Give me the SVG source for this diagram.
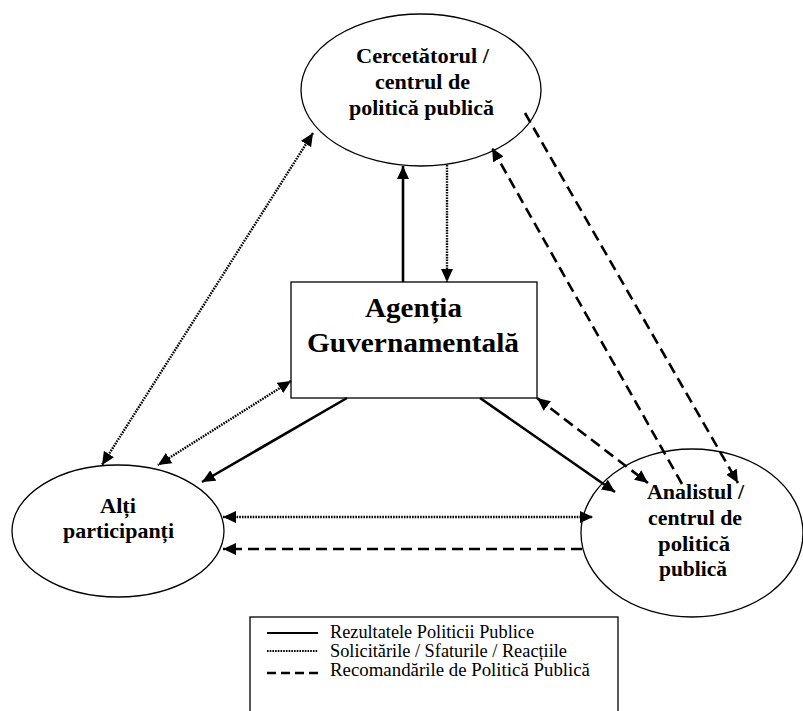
<svg xmlns="http://www.w3.org/2000/svg" width="803" height="711" viewBox="0 0 803 711">
  <defs>
    <style>
      .shape { fill: #ffffff; stroke: #000000; stroke-width: 1.3; }
      .lbl { font-weight: bold; fill: #000; text-anchor: middle; }
      .leg { fill: #000; font-size: 18px; }
      .solid { stroke: #000; stroke-width: 2.6; fill: none; }
      .dot { stroke: #000; stroke-width: 2.4; fill: none; stroke-dasharray: 1.6 1.1; }
      .dash { stroke: #000; stroke-width: 2.6; fill: none; stroke-dasharray: 11 6; }
    </style>
    <marker id="arr" markerUnits="userSpaceOnUse" markerWidth="14" markerHeight="12" refX="13" refY="6" orient="auto-start-reverse" viewBox="0 0 14 12">
      <path d="M0,0 L13,6 L0,12 Z" fill="#000"/>
    </marker>
  </defs>
  <rect width="803" height="711" fill="#ffffff"/>

  <g font-family="'Liberation Serif', 'Times New Roman', serif">
  <g id="cercetator">
    <ellipse class="shape" cx="421" cy="90" rx="120" ry="76"/>
    <text class="lbl" font-size="21" x="422.5" y="63" textLength="133" lengthAdjust="spacingAndGlyphs">Cercetătorul /</text>
    <text class="lbl" font-size="21" x="422.5" y="89" textLength="95" lengthAdjust="spacingAndGlyphs">centrul de</text>
    <text class="lbl" font-size="21" x="421.5" y="115" textLength="145" lengthAdjust="spacingAndGlyphs">politică publică</text>
  </g>

  <g id="agentia">
    <rect class="shape" x="291" y="282" width="246" height="116"/>
    <text class="lbl" font-size="28" x="413.5" y="317" textLength="97" lengthAdjust="spacingAndGlyphs">Agenția</text>
    <text class="lbl" font-size="28" x="413" y="352" textLength="212" lengthAdjust="spacingAndGlyphs">Guvernamentală</text>
  </g>

  <g id="alti">
    <ellipse class="shape" cx="118" cy="531" rx="106" ry="66"/>
    <text class="lbl" font-size="21" x="118" y="513" textLength="36" lengthAdjust="spacingAndGlyphs">Alți</text>
    <text class="lbl" font-size="21" x="118.5" y="538" textLength="111" lengthAdjust="spacingAndGlyphs">participanți</text>
  </g>

  <g id="analist">
    <ellipse class="shape" cx="692" cy="533" rx="111" ry="84"/>
    <text class="lbl" font-size="21" x="695.5" y="499" textLength="97" lengthAdjust="spacingAndGlyphs">Analistul /</text>
    <text class="lbl" font-size="21" x="695" y="525" textLength="94" lengthAdjust="spacingAndGlyphs">centrul de</text>
    <text class="lbl" font-size="21" x="694" y="551" textLength="72" lengthAdjust="spacingAndGlyphs">politică</text>
    <text class="lbl" font-size="21" x="693" y="576" textLength="68" lengthAdjust="spacingAndGlyphs">publică</text>
  </g>

  <g id="legend">
    <rect class="shape" x="250" y="617" width="368" height="100"/>
    <line class="solid" x1="267" y1="633" x2="318" y2="633" style="stroke-width:1.8"/>
    <line class="dot" x1="267" y1="651" x2="318" y2="651" style="stroke-width:2"/>
    <line class="dash" x1="267" y1="673" x2="318" y2="673" style="stroke-dasharray:9 5"/>
    <text class="leg" x="330" y="638" textLength="204" lengthAdjust="spacingAndGlyphs">Rezultatele Politicii Publice</text>
    <text class="leg" x="330" y="657" textLength="237" lengthAdjust="spacingAndGlyphs">Solicitările / Sfaturile / Reacțiile</text>
    <text class="leg" x="330" y="676" textLength="260" lengthAdjust="spacingAndGlyphs">Recomandările de Politică Publică</text>
  </g>
  </g>

  <g id="connectors">
    <line class="solid" x1="403" y1="282" x2="403" y2="166" marker-end="url(#arr)"/>
    <line class="dot" x1="447" y1="165" x2="447" y2="282" marker-end="url(#arr)"/>
    <line class="dot" x1="313" y1="133" x2="102" y2="465" marker-start="url(#arr)" marker-end="url(#arr)"/>
    <line class="dot" x1="291" y1="381" x2="158" y2="465" marker-start="url(#arr)" marker-end="url(#arr)"/>
    <line class="solid" x1="347" y1="398" x2="202" y2="482" marker-end="url(#arr)"/>
    <line class="solid" x1="480" y1="398" x2="615" y2="492" marker-end="url(#arr)"/>
    <line class="dash" x1="537" y1="398" x2="648" y2="483" marker-start="url(#arr)" marker-end="url(#arr)"/>
    <line class="dash" x1="682" y1="484" x2="492" y2="148" marker-end="url(#arr)"/>
    <line class="dash" x1="525" y1="113" x2="738" y2="483" marker-end="url(#arr)"/>
    <line class="dot" x1="223" y1="517" x2="593" y2="517" marker-start="url(#arr)" marker-end="url(#arr)"/>
    <line class="dash" x1="582" y1="549" x2="223" y2="549" marker-end="url(#arr)"/>
  </g>
</svg>
